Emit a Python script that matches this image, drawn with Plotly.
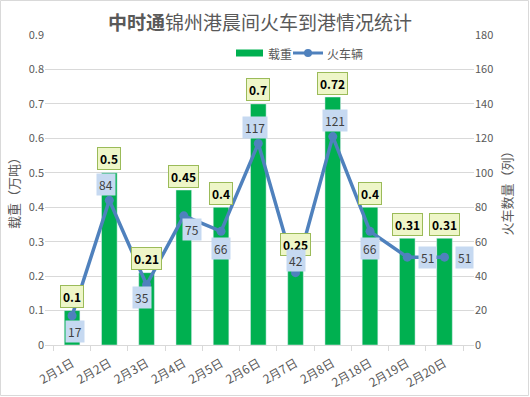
import plotly.graph_objects as go

categories = ["2月1日", "2月2日", "2月3日", "2月4日", "2月5日", "2月6日",
              "2月7日", "2月8日", "2月18日", "2月19日", "2月20日"]
weight = [0.1, 0.5, 0.21, 0.45, 0.4, 0.7, 0.25, 0.72, 0.4, 0.31, 0.31]
trains = [17, 84, 35, 75, 66, 117, 42, 121, 66, 51, 51]
left_ticks = [0, 0.1, 0.2, 0.3, 0.4, 0.5, 0.6, 0.7, 0.8, 0.9]
right_ticks = [0, 20, 40, 60, 80, 100, 120, 140, 160, 180]

# label offsets (pixels) for the train-count labels, style only
train_label_dx = [3, -3, -5, 8, 0, -3, 0, 2, 0, 20, 20]
train_label_dy = [16, -16, 13, 14, 17, -16, -12, -16, 17, 0, 0]

FONT = "Noto Sans CJK SC"
GRAY = "#595959"
BAR_C = "#00B050"
LINE_C = "#4F81BD"
W, H = 530, 397
L, R, T, B = 45, 56, 35, 52
PW, PH = W - L - R, H - T - B


def px(x):
    return (x - L) / PW


def py(y):
    return 1 - (y - T) / PH


fig = go.Figure()
fig.add_trace(go.Bar(x=categories, y=weight, name="载重", marker_color=BAR_C,
                     width=0.42, yaxis="y", showlegend=False))
fig.add_trace(go.Scatter(x=categories, y=trains, name="火车辆", yaxis="y2",
                         mode="lines+markers", showlegend=False,
                         line=dict(color=LINE_C, width=3.5),
                         marker=dict(size=9, color=LINE_C)))

ann = []
for c, v in zip(categories, weight):
    ann.append(dict(x=c, y=v, xref="x", yref="y", text="<b>%s</b>" % v,
                    showarrow=False, yanchor="middle", yshift=14,
                    font=dict(family=FONT, size=12, color="#000000"),
                    bgcolor="#EEF6C8", bordercolor="#9BBB59", borderwidth=1,
                    borderpad=2))
for c, v, dx, dy in zip(categories, trains, train_label_dx, train_label_dy):
    ann.append(dict(x=c, y=v, xref="x", yref="y2", text=str(v),
                    showarrow=False, xshift=dx, yshift=-dy,
                    font=dict(family=FONT, size=12, color="#404040"),
                    bgcolor="#C6D9F1", borderpad=2))

# title with bold prefix
ann.append(dict(x=px(260), y=py(22), xref="paper", yref="paper",
                text="<b>中时通</b>锦州港晨间火车到港情况统计", showarrow=False,
                font=dict(family=FONT, size=19, color=GRAY),
                xanchor="center", yanchor="middle"))

# manual legend texts
ann.append(dict(x=px(266), y=py(53), xref="paper", yref="paper", text="载重",
                showarrow=False, xanchor="left", yanchor="middle",
                font=dict(family=FONT, size=12, color=GRAY)))
ann.append(dict(x=px(325), y=py(53), xref="paper", yref="paper", text="火车辆",
                showarrow=False, xanchor="left", yanchor="middle",
                font=dict(family=FONT, size=12, color=GRAY)))

shapes = [
    dict(type="rect", xref="paper", yref="paper",
         x0=px(0.5), x1=px(W - 1.5), y0=py(0.5), y1=py(H - 1.5),
         line=dict(color="#D9D9D9", width=1), layer="below"),
    dict(type="rect", xref="paper", yref="paper",
         x0=px(236), x1=px(263), y0=py(49.5), y1=py(56.5),
         fillcolor=BAR_C, line=dict(width=0)),
    dict(type="line", xref="paper", yref="paper",
         x0=px(293), x1=px(323), y0=py(53), y1=py(53),
         line=dict(color=LINE_C, width=3)),
    dict(type="circle", xref="paper", yref="paper",
         x0=px(304), x1=px(312), y0=py(49), y1=py(57),
         fillcolor=LINE_C, line=dict(width=0)),
]

fig.update_layout(
    width=W, height=H,
    margin=dict(l=L, r=R, t=T, b=B, autoexpand=False),
    paper_bgcolor="white", plot_bgcolor="white",
    font=dict(family=FONT, size=11, color=GRAY),
    showlegend=False,
    bargap=0.5,
    xaxis=dict(type="category", tickangle=-30, showgrid=False, automargin=False,
               showline=True, linecolor="#D9D9D9", ticks="outside",
               tickcolor="#D9D9D9", ticklen=5, tickson="boundaries",
               ticklabelstandoff=6,
               tickfont=dict(family=FONT, size=12, color=GRAY)),
    yaxis=dict(range=[0, 0.9], tickvals=left_ticks, automargin=False,
               ticktext=[("%g" % t) for t in left_ticks],
               showgrid=True, gridcolor="#D9D9D9", zeroline=False,
               ticks="", tickfont=dict(family=FONT, size=11, color=GRAY),
               title=dict(text="载重（万吨）", standoff=6,
                          font=dict(family=FONT, size=13, color=GRAY))),
    yaxis2=dict(range=[0, 180], tickvals=right_ticks, overlaying="y",
                side="right", showgrid=False, zeroline=False, automargin=False,
                ticks="", tickfont=dict(family=FONT, size=11, color=GRAY),
                title=dict(text="火车数量（列）", standoff=10,
                           font=dict(family=FONT, size=13, color=GRAY))),
    annotations=ann,
    shapes=shapes,
)

fig.write_html("out.html", config={"displayModeBar": False},
               post_script="document.body.style.margin='0px';")
